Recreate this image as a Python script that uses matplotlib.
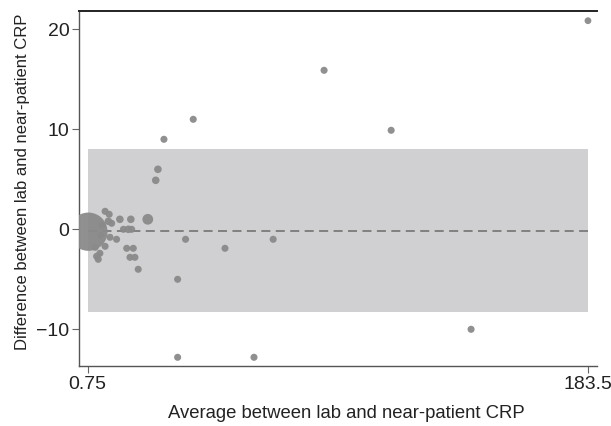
import matplotlib.pyplot as plt

plt.rcParams["font.family"] = ["Liberation Sans", "DejaVu Sans"]

# Bland-Altman data
avg_crp = [183.5, 87.1, 111.6, 140.8, 39.3, 28.6, 26.4, 25.6, 22.7, 36.5,
           50.9, 68.5, 33.6, 33.6, 61.5, 7.1, 8.6, 8.3, 9.5, 12.5,
           16.5, 13.8, 15.6, 16.8, 8.9, 11.3, 7.1, 5.2, 4.0, 4.6,
           15.0, 17.4, 16.2, 18.0, 19.2, 6.0, 5.5, 3.5, 1.0]
diff_crp = [20.86, 15.9, 9.9, -10.0, 11.0, 9.0, 6.0, 4.9, 1.0, -1.0,
            -1.9, -1.0, -5.0, -12.8, -12.8, 1.8, 1.5, 0.8, 0.6, 1.0,
            1.0, 0.0, 0.0, 0.0, -0.8, -1.0, -1.7, -2.4, -2.7, -3.0,
            -1.9, -1.9, -2.8, -2.8, -4.0, 0.4, -0.6, -1.8, -0.24]
sizes = [24, 26, 26, 26, 26, 26, 30, 30, 60, 26,
         26, 26, 26, 26, 26, 26, 26, 30, 26, 30,
         30, 26, 30, 26, 26, 26, 26, 26, 26, 26,
         26, 26, 26, 26, 26, 26, 26, 26, 760]

mean_diff = -0.14
upper_loa = 8.0
lower_loa = -8.24
x_min, x_max = 0.75, 183.5

fig, ax = plt.subplots(figsize=(6.11, 4.26), dpi=100)
fig.subplots_adjust(left=79/611, right=597/611, top=1-11/426, bottom=1-366/426)

# limits of agreement band and mean difference
ax.fill_between([x_min, x_max], lower_loa, upper_loa, color="#d0d0d2", lw=0, zorder=1)
ax.plot([x_min, x_max], [mean_diff, mean_diff], ls=(0, (5, 3)), color="#7a7a7a", lw=1.3, zorder=2)

ax.scatter(avg_crp, diff_crp, s=sizes, color="#8a8a8a", edgecolors="none", alpha=0.95, zorder=3)

ax.set_xlim(-2.43, 186.8)
ax.set_ylim(-13.67, 21.83)
ax.set_xticks([x_min, x_max])
ax.set_xticklabels(["0.75", "183.5"])
ax.set_yticks([-10, 0, 10, 20])
ax.set_yticklabels(["\u221210", "0", "10", "20"])

ax.spines["right"].set_visible(False)
ax.spines["top"].set_color("#222222")
ax.spines["top"].set_linewidth(1.4)
for s in ["left", "bottom"]:
    ax.spines[s].set_color("#555555")
    ax.spines[s].set_linewidth(1.0)

ax.tick_params(direction="out", length=5, width=0.8, color="#666666",
               labelsize=14, labelcolor="#222222", pad=2)

ax.set_xlabel("Average between lab and near-patient CRP", fontsize=13.3, color="#222222")
ax.set_ylabel("Difference between lab and near-patient CRP", fontsize=12, color="#222222")
ax.xaxis.set_label_coords(0.517, -0.11)
ax.yaxis.set_label_coords(-0.095, 0.518)

fig.savefig("out.png", dpi=100)
